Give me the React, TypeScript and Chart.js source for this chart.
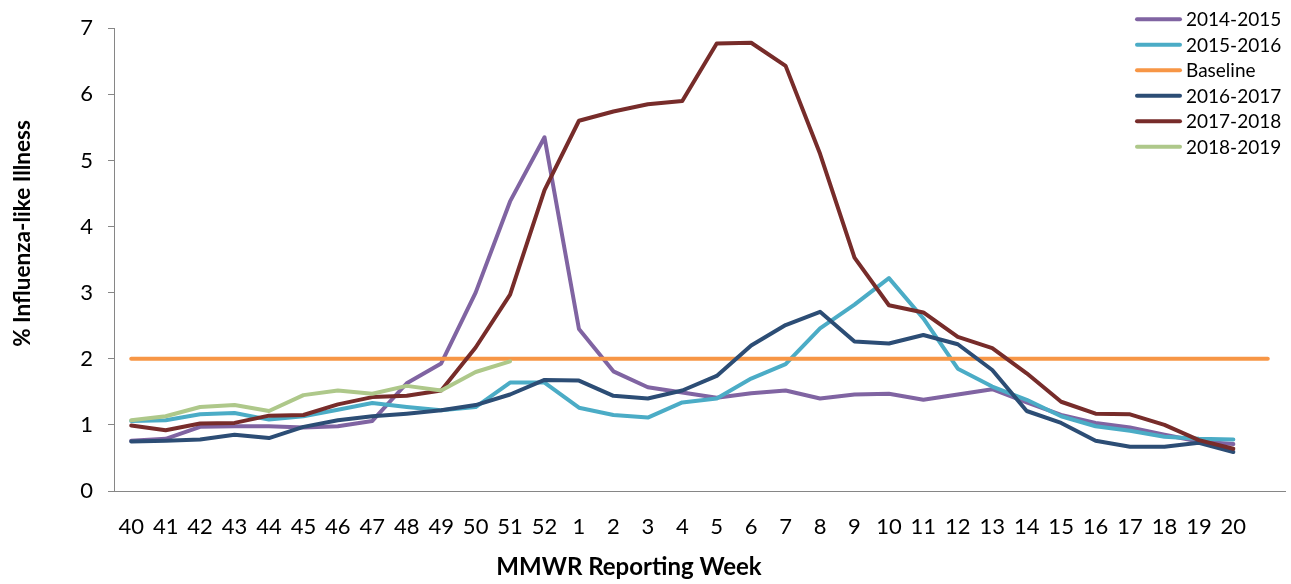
import { useEffect, useRef } from 'react';
import { Chart, registerables } from 'chart.js';

Chart.register(...registerables);

const weeks = ['40', '41', '42', '43', '44', '45', '46', '47', '48', '49', '50', '51', '52',
  '1', '2', '3', '4', '5', '6', '7', '8', '9', '10', '11', '12', '13', '14', '15', '16', '17', '18', '19', '20', ''];

const s1415 = [0.76, 0.79, 0.97, 0.98, 0.98, 0.96, 0.98, 1.06, 1.63, 1.93, 3.0, 4.38, 5.35,
  2.45, 1.81, 1.57, 1.49, 1.41, 1.48, 1.52, 1.40, 1.46, 1.47, 1.38, 1.46, 1.54, 1.34, 1.15, 1.03, 0.96, 0.85, 0.75, 0.71];

const s1516 = [1.06, 1.07, 1.16, 1.18, 1.08, 1.13, 1.23, 1.33, 1.27, 1.22, 1.27, 1.64, 1.64,
  1.26, 1.15, 1.11, 1.34, 1.40, 1.70, 1.92, 2.46, 2.82, 3.22, 2.61, 1.85, 1.58, 1.38, 1.13, 0.98, 0.91, 0.82, 0.79, 0.78];

const baseline = [2.0, 2.0, 2.0, 2.0, 2.0, 2.0, 2.0, 2.0, 2.0, 2.0, 2.0, 2.0, 2.0, 2.0, 2.0, 2.0, 2.0,
  2.0, 2.0, 2.0, 2.0, 2.0, 2.0, 2.0, 2.0, 2.0, 2.0, 2.0, 2.0, 2.0, 2.0, 2.0, 2.0, 2.0];

const s1617 = [0.75, 0.76, 0.78, 0.85, 0.80, 0.97, 1.07, 1.13, 1.17, 1.22, 1.30, 1.46, 1.68,
  1.67, 1.44, 1.40, 1.52, 1.74, 2.20, 2.51, 2.71, 2.26, 2.23, 2.36, 2.22, 1.83, 1.21, 1.03, 0.76, 0.67, 0.67, 0.73, 0.59];

const s1718 = [0.99, 0.92, 1.02, 1.03, 1.14, 1.15, 1.31, 1.42, 1.44, 1.52, 2.17, 2.97, 4.55,
  5.60, 5.74, 5.85, 5.90, 6.77, 6.78, 6.43, 5.10, 3.53, 2.81, 2.70, 2.33, 2.16, 1.78, 1.35, 1.17, 1.16, 1.00, 0.77, 0.64];

const s1819 = [1.07, 1.13, 1.27, 1.30, 1.21, 1.45, 1.52, 1.47, 1.59, 1.52, 1.80, 1.96];

const seriesNames = ['2014-2015', '2015-2016', 'Baseline', '2016-2017', '2017-2018', '2018-2019'];
const seriesColors = ['#8064A2', '#4BACC6', '#F79646', '#2C4D75', '#772C2A', '#AEC88A'];

const FONT = 'Lato, "Open Sans", sans-serif';

const overlayPlugin = {
  id: 'overlayText',
  afterDraw(chart: any) {
    const ctx = chart.ctx as CanvasRenderingContext2D;
    ctx.save();
    // legend
    const x0 = 1137;
    const x1 = 1180;
    const rowY0 = 19.3;
    const rowGap = 25.5;
    ctx.font = `19px ${FONT}`;
    ctx.textBaseline = 'middle';
    ctx.textAlign = 'left';
    seriesNames.forEach((name, i) => {
      const y = rowY0 + i * rowGap;
      ctx.strokeStyle = seriesColors[i];
      ctx.lineWidth = 4;
      ctx.lineCap = 'round';
      ctx.beginPath();
      ctx.moveTo(x0, y);
      ctx.lineTo(x1, y);
      ctx.stroke();
      ctx.fillStyle = '#000';
      ctx.fillText(name, 1186, y + 1);
    });
    // axis titles
    ctx.fillStyle = '#000';
    ctx.textAlign = 'center';
    ctx.font = `bold 24px ${FONT}`;
    ctx.fillText('MMWR Reporting Week', 629, 567);
    ctx.font = `bold 22.5px ${FONT}`;
    ctx.translate(23, 233.5);
    ctx.rotate(-Math.PI / 2);
    ctx.fillText('% Influenza-like Illness', 0, 0);
    ctx.restore();
  },
};

export default function App() {
  const canvasRef = useRef<HTMLCanvasElement | null>(null);

  useEffect(() => {
    if (!canvasRef.current) return;
    const mk = (label: string, data: (number | null)[], color: string, order: number) => ({
      label,
      data,
      borderColor: color,
      backgroundColor: color,
      borderWidth: 4,
      pointRadius: 0,
      pointHoverRadius: 0,
      tension: 0,
      fill: false,
      order,
      borderCapStyle: 'round' as const,
      borderJoinStyle: 'round' as const,
    });
    const chart = new Chart(canvasRef.current, {
      type: 'line',
      data: {
        labels: weeks,
        datasets: [
          mk(seriesNames[0], s1415, seriesColors[0], 6),
          mk(seriesNames[1], s1516, seriesColors[1], 5),
          mk(seriesNames[2], baseline, seriesColors[2], 4),
          mk(seriesNames[3], s1617, seriesColors[3], 3),
          mk(seriesNames[4], s1718, seriesColors[4], 2),
          mk(seriesNames[5], s1819, seriesColors[5], 1),
        ],
      },
      plugins: [overlayPlugin],
      options: {
        responsive: false,
        animation: false,
        events: [],
        layout: { padding: { top: 23, right: 6, left: 0, bottom: 0 } },
        plugins: {
          legend: { display: false },
          tooltip: { enabled: false },
          title: { display: false },
        },
        scales: {
          x: {
            type: 'category',
            offset: true,
            grid: { display: false, drawTicks: false },
            border: { display: true, color: '#868686', width: 1 },
            ticks: {
              autoSkip: false,
              maxRotation: 0,
              minRotation: 0,
              padding: 23,
              color: '#000',
              font: { family: FONT, size: 22 },
            },
            afterFit(scale: any) {
              scale.height = 93;
            },
          },
          y: {
            min: 0,
            max: 7,
            ticks: {
              stepSize: 1,
              padding: 15,
              color: '#000',
              font: { family: FONT, size: 22 },
            },
            grid: { drawOnChartArea: false, drawTicks: true, tickLength: 6, color: '#868686' },
            border: { display: true, color: '#868686', width: 1 },
            afterFit(scale: any) {
              scale.width = 114;
            },
          },
        },
      },
    });
    return () => chart.destroy();
  }, []);

  return (
    <div style={{ position: 'fixed', left: 0, top: 0, width: 1291, height: 584, background: '#fff' }}>
      <canvas ref={canvasRef} width={1291} height={584} style={{ display: 'block' }} />
    </div>
  );
}
